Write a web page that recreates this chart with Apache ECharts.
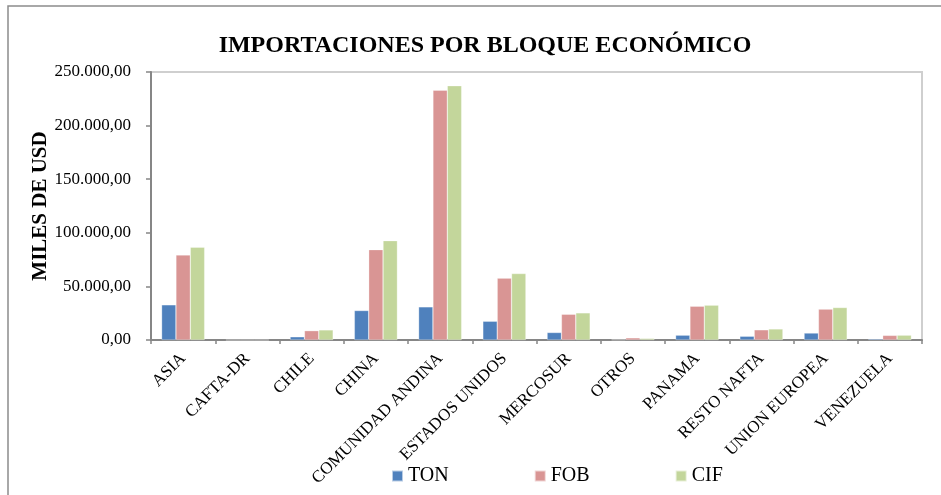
<!DOCTYPE html>
<html>
<head>
<meta charset="utf-8">
<script src="https://cdn.jsdelivr.net/npm/echarts@6/dist/echarts.min.js"></script>
<style>
  html, body { margin: 0; padding: 0; background: #fff; }
  #chart { width: 941px; height: 495px; }
</style>
</head>
<body>
<div id="chart"></div>
<script>
const categories = [
  "ASIA", "CAFTA-DR", "CHILE", "CHINA", "COMUNIDAD ANDINA", "ESTADOS UNIDOS",
  "MERCOSUR", "OTROS", "PANAMA", "RESTO NAFTA", "UNION EUROPEA", "VENEZUELA",
];
const tonValues = [32800, 0, 3000, 27500, 30900, 17500, 7000, 300, 4500, 3500, 6500, 1000];
const fobValues = [79300, 0, 8700, 84300, 233000, 57700, 24000, 2000, 31500, 9500, 28800, 4300];
const cifValues = [86500, 0, 9400, 92700, 237200, 62000, 25300, 1500, 32500, 10300, 30300, 4500];

const SERIF = "'Liberation Serif', 'Times New Roman', serif";
const AXIS_GRAY = "#868686";

function formatMiles(value) {
  const parts = Math.round(value).toString().replace(/\B(?=(\d{3})+(?!\d))/g, ".");
  return parts + ",00";
}

const chart = echarts.init(document.getElementById("chart"), null, { renderer: "canvas" });

function barSeries(name, data, color) {
  return {
    name,
    type: "bar",
    data,
    barGap: "0%",
    barCategoryGap: "33%",
    itemStyle: { color, borderColor: "rgba(255,255,255,0.6)", borderWidth: 0.5 },
  };
}

chart.setOption({
  animation: false,
  textStyle: { fontFamily: SERIF },
  graphic: [
    {
      type: "rect",
      shape: { x: 8, y: 6, width: 1000, height: 1000 },
      style: { fill: "none", stroke: "#8c8c8c", lineWidth: 1.5 },
      silent: true,
    },
    {
      type: "rect",
      shape: { x: 151, y: 72, width: 771, height: 268 },
      style: { fill: "none", stroke: "#cfcfcf", lineWidth: 2 },
      silent: true,
      z: -1,
    },
  ],
  title: {
    text: "IMPORTACIONES POR BLOQUE ECONÓMICO",
    left: 480,
    textAlign: "center",
    top: 29,
    textStyle: { fontFamily: SERIF, fontSize: 24, fontWeight: "bold", color: "#000" },
  },
  legend: {
    data: ["TON", "FOB", "CIF"],
    left: 386,
    top: 461,
    itemWidth: 11,
    itemHeight: 11,
    itemGap: 85,
    icon: "rect",
    textStyle: { fontFamily: SERIF, fontSize: 20, color: "#000" },
  },
  grid: { left: 151, right: 19, top: 72, bottom: 155, containLabel: false },
  xAxis: {
    type: "category",
    data: categories,
    axisLine: { lineStyle: { color: AXIS_GRAY, width: 2 } },
    axisTick: { show: true, length: 4, lineStyle: { color: AXIS_GRAY, width: 1.5 } },
    axisLabel: {
      interval: 0,
      rotate: 45,
      margin: 16,
      fontFamily: SERIF,
      fontSize: 17,
      color: "#000",
    },
  },
  yAxis: {
    type: "value",
    min: 0,
    max: 250000,
    interval: 50000,
    name: "MILES DE USD",
    nameLocation: "middle",
    nameRotate: 90,
    nameGap: 100,
    nameMoveOverlap: false,
    nameTextStyle: { fontFamily: SERIF, fontSize: 21, fontWeight: "bold", color: "#000" },
    axisLine: { show: true, lineStyle: { color: AXIS_GRAY, width: 2 } },
    axisTick: { show: true, length: 5, lineStyle: { color: AXIS_GRAY, width: 1.5 } },
    splitLine: { show: false },
    axisLabel: {
      margin: 20,
      fontFamily: SERIF,
      fontSize: 17,
      color: "#000",
      formatter: formatMiles,
    },
  },
  series: [
    barSeries("TON", tonValues, "#4F81BD"),
    barSeries("FOB", fobValues, "#D99594"),
    barSeries("CIF", cifValues, "#C3D69B"),
  ],
});
</script>
</body>
</html>
